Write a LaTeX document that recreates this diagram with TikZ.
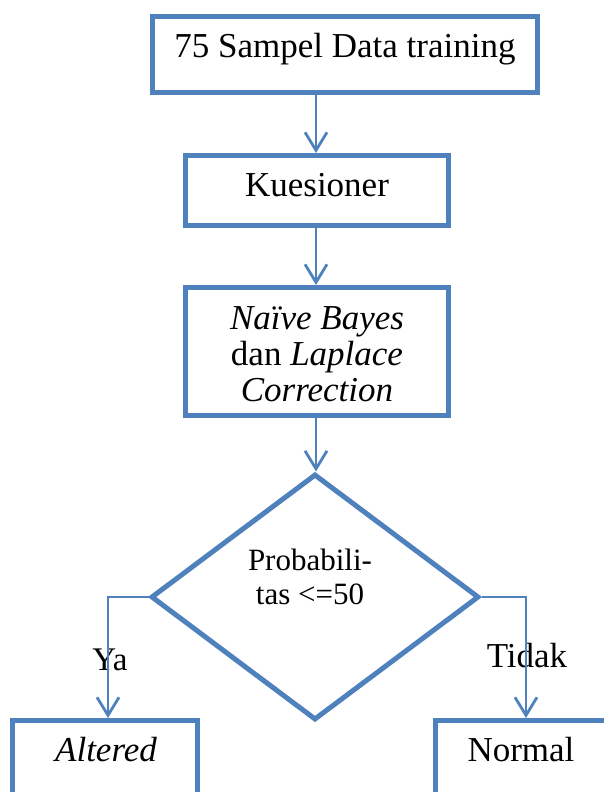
\documentclass[tikz,border=0pt]{standalone}
\usepackage{fontspec}
\setmainfont{Liberation Serif}
\usetikzlibrary{shapes.geometric,arrows.meta,calc}
\definecolor{flowblue}{HTML}{4F81BD}
\begin{document}
\begin{tikzpicture}[x=1pt,y=-1pt,
  box/.style={draw=flowblue,line width=5pt,inner sep=0pt,fill=white},
  label/.style={inner sep=0pt,font=\fontsize{35}{38}\selectfont,align=center},
  flow/.style={draw=flowblue,line width=2.8pt,-{Straight Barb[length=18pt,width=22pt,line width=2.8pt]}},
]
\useasboundingbox (0,0) rectangle (604,792);
\clip (0,0) rectangle (604,792);

% process boxes
\node[box,minimum width=385pt,minimum height=76pt] (b1) at (345,54.5) {};
\node[box,minimum width=263pt,minimum height=70pt] (b2) at (317,190.5) {};
\node[box,minimum width=263pt,minimum height=128pt] (b3) at (317,351.5) {};

% decision
\node[draw=flowblue,line width=5pt,diamond,inner sep=0pt,
      minimum width=328pt,minimum height=246pt] (d) at (315,597) {};

% outcome boxes (running past the lower edge)
\node[box,minimum width=185pt,minimum height=120pt] (alt) at (105,780.5) {};
\node[box,minimum width=200pt,minimum height=120pt] (nor) at (535.5,780.5) {};

% texts
\node[label,anchor=base] at (345,57) {75 Sampel Data training};
\node[label,anchor=base] at (317,196) {Kuesioner};
\node[label,anchor=base] at (317,329) {\itshape Naïve Bayes};
\node[label,anchor=base] at (317,365) {dan \itshape Laplace};
\node[label,anchor=base] at (317,401) {\itshape Correction};
\node[label,anchor=base,font=\fontsize{31}{33}\selectfont] at (310,570) {Probabili-};
\node[label,anchor=base,font=\fontsize{31}{33}\selectfont] at (310,604) {tas <=50};
\node[label,anchor=base] at (106,761) {\itshape Altered};
\node[label,anchor=base] at (521,761) {Normal};
\node[label,anchor=base,font=\fontsize{33}{35}\selectfont] (ya) at (110,670) {Ya};
\node[label,anchor=base] (tidak) at (527,667) {Tidak};

% connectors
\coordinate (ax) at (316,0);
\draw[flow] (b1.south -| ax) -- (b2.north -| ax);
\draw[flow] (b2.south -| ax) -- (b3.north -| ax);
\draw[flow] (b3.south -| ax) -- (d.north -| ax);
\coordinate (lt) at (108,597);
\coordinate (rt) at (526,597);
\draw[flow] (d.west) -- (lt) -- (lt |- alt.north);
\draw[flow] (d.east) -- (rt) -- (rt |- nor.north);
\end{tikzpicture}
\end{document}
